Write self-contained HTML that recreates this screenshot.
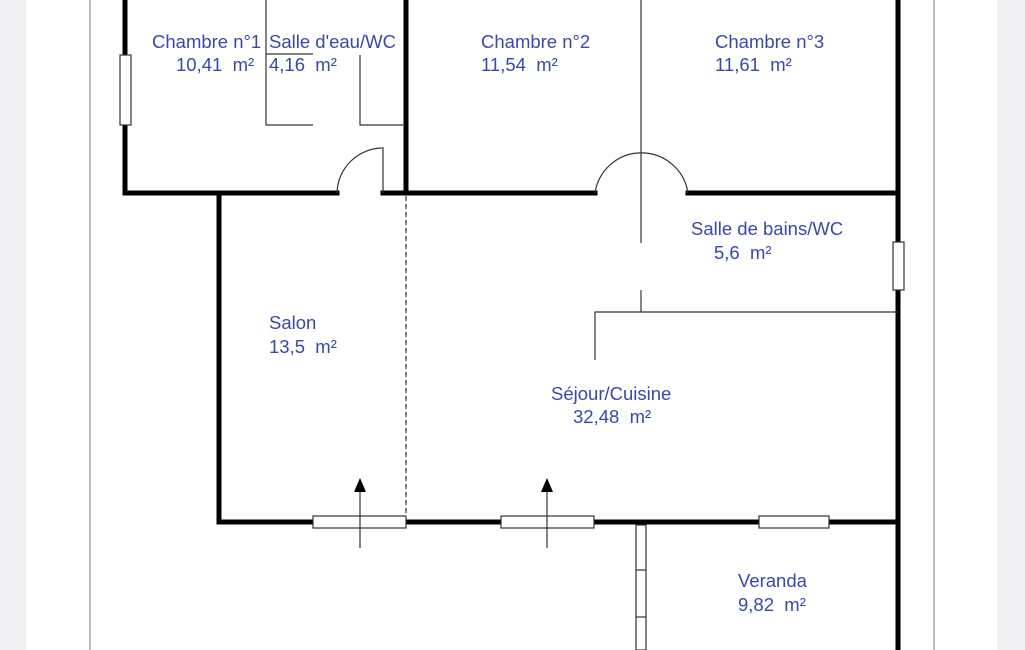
<!DOCTYPE html>
<html><head><meta charset="utf-8"><style>
html,body{margin:0;padding:0;width:1025px;height:650px;overflow:hidden;background:#fff}
svg{display:block}
text{font-family:"Liberation Sans",sans-serif;font-size:18.5px;fill:#3a48a8;white-space:pre}
</style></head><body>
<svg width="1025" height="650" viewBox="0 0 1025 650">
<rect x="0" y="0" width="26" height="650" fill="#f1f1f3"/>
<rect x="997" y="0" width="28" height="650" fill="#f1f1f3"/>
<line x1="90" y1="0" x2="90" y2="650" stroke="#777" stroke-width="1"/>
<line x1="934" y1="0" x2="934" y2="650" stroke="#777" stroke-width="1"/>
<g stroke="#000" stroke-width="5" fill="none" stroke-linecap="square">
<line x1="125" y1="0" x2="125" y2="193"/>
<line x1="125" y1="193" x2="337" y2="193"/>
<line x1="383" y1="193" x2="406" y2="193"/>
<line x1="406" y1="0" x2="406" y2="193"/>
<line x1="406" y1="193" x2="595" y2="193"/>
<line x1="688" y1="193" x2="898" y2="193"/>
<line x1="898" y1="0" x2="898" y2="650"/>
<line x1="219" y1="196" x2="219" y2="522"/>
<line x1="219" y1="522" x2="898" y2="522"/>
</g>
<g stroke="#333" stroke-width="1.2" fill="#fff">
<rect x="120" y="55" width="11" height="70"/>
<rect x="893" y="242" width="11" height="48"/>
<rect x="313" y="516" width="93" height="12"/>
<rect x="501" y="516" width="93" height="12"/>
<rect x="759" y="516" width="70" height="12"/>
<rect x="636" y="525" width="10" height="125"/>
<line x1="636" y1="570" x2="646" y2="570"/>
<line x1="636" y1="617" x2="646" y2="617"/>
</g>
<g stroke="#333" stroke-width="1.2" fill="none">
<path d="M266 0 V125 H313"/>
<path d="M360 55 V125 H405"/>
<line x1="266" y1="54" x2="313" y2="54"/>
<path d="M337 193 A46 46 0 0 1 383 148 V193"/>
<path d="M595 193 A47 47 0 0 1 688 193"/>
<line x1="641" y1="0" x2="641" y2="243"/>
<line x1="641" y1="290" x2="641" y2="312"/>
<path d="M595 360 V312 H898"/>
<line x1="406" y1="196" x2="406" y2="516" stroke-dasharray="5,3"/>
<line x1="360" y1="490" x2="360" y2="548"/>
<line x1="547" y1="490" x2="547" y2="548"/>
</g>
<polygon points="360,478 354,492 366,492" fill="#000"/>
<polygon points="547,478 541,492 553,492" fill="#000"/>
<text x="152" y="48">Chambre n°1</text>
<text x="176" y="71">10,41  m²</text>
<text x="269" y="48">Salle d'eau/WC</text>
<text x="269" y="71">4,16  m²</text>
<text x="481" y="48">Chambre n°2</text>
<text x="481" y="71">11,54  m²</text>
<text x="715" y="48">Chambre n°3</text>
<text x="715" y="71">11,61  m²</text>
<text x="691" y="235">Salle de bains/WC</text>
<text x="714" y="259">5,6  m²</text>
<text x="269" y="329">Salon</text>
<text x="269" y="353">13,5  m²</text>
<text x="551" y="400">Séjour/Cuisine</text>
<text x="573" y="423">32,48  m²</text>
<text x="738" y="587">Veranda</text>
<text x="738" y="611">9,82  m²</text>
</svg>
</body></html>
